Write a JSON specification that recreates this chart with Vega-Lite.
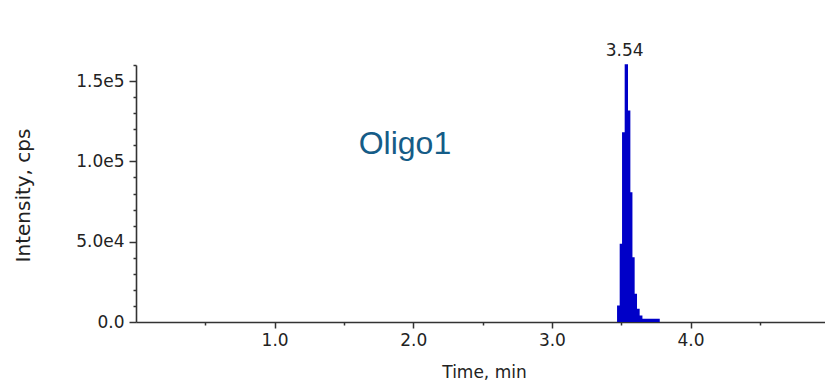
{
  "$schema": "https://vega.github.io/schema/vega-lite/v6.json",
  "autosize": "none",
  "width": 689,
  "height": 257,
  "padding": {"left": 136, "top": 65, "right": 0, "bottom": 58},
  "background": "white",
  "config": {"view": {"stroke": null}},
  "datasets": {
    "trace": [
      {"time": 0.0, "intensity": 0},
      {"time": 3.47, "intensity": 10270},
      {"time": 3.489, "intensity": 48670},
      {"time": 3.506, "intensity": 118140},
      {"time": 3.525, "intensity": 160500},
      {"time": 3.549, "intensity": 131640},
      {"time": 3.566, "intensity": 80790},
      {"time": 3.581, "intensity": 40340},
      {"time": 3.597, "intensity": 17550},
      {"time": 3.614, "intensity": 8200},
      {"time": 3.633, "intensity": 4050},
      {"time": 3.653, "intensity": 2000},
      {"time": 3.778, "intensity": 0},
      {"time": 4.97, "intensity": 0}
    ],
    "peak": [{"time": 3.525, "intensity": 160500, "label": "3.54"}],
    "name": [{"time": 1.94, "intensity": 104880, "label": "Oligo1"}]
  },
  "layer": [
    {
      "data": {"name": "trace"},
      "mark": {"type": "area", "interpolate": "step-after", "color": "#0000c8"},
      "encoding": {
        "x": {
          "field": "time", "type": "quantitative",
          "scale": {"domain": [0, 4.97], "nice": false, "zero": false},
          "axis": {
            "title": "Time, min",
            "values": [0.5, 1, 1.5, 2, 2.5, 3, 3.5, 4, 4.5],
            "tickCount": 20,
            "labelExpr": "datum.value == 1 ? '1.0' : datum.value == 2 ? '2.0' : datum.value == 3 ? '3.0' : datum.value == 4 ? '4.0' : ''",
            "labelOverlap": false,
            "grid": false,
            "domainColor": "#333333",
            "domainWidth": 1.6,
            "tickColor": "#333333",
            "tickWidth": 1.5,
            "tickSize": {"condition": {"test": "datum.value == 1 || datum.value == 2 || datum.value == 3 || datum.value == 4", "value": 6}, "value": 3},
            "labelFont": "DejaVu Sans",
            "labelFontSize": 17,
            "labelColor": "#222222",
            "labelPadding": 4,
            "labelFlush": false,
            "titleFont": "DejaVu Sans",
            "titleFontSize": 17,
            "titleFontWeight": "normal",
            "titleColor": "#222222",
            "titleBaseline": "alphabetic",
            "titleY": 55,
            "titleX": 348
          }
        },
        "y": {
          "field": "intensity", "type": "quantitative",
          "scale": {"domain": [0, 160000], "nice": false},
          "axis": {
            "title": "Intensity, cps",
            "values": [0, 10000, 20000, 30000, 40000, 50000, 60000, 70000, 80000, 90000, 100000, 110000, 120000, 130000, 140000, 150000, 160000],
            "tickCount": 20,
            "labelExpr": "datum.value == 150000 ? '1.5e5' : datum.value == 100000 ? '1.0e5' : datum.value == 50000 ? '5.0e4' : datum.value == 0 ? '0.0' : ''",
            "labelOverlap": false,
            "grid": false,
            "domainColor": "#333333",
            "domainWidth": 1.6,
            "tickColor": "#333333",
            "tickWidth": 1.5,
            "tickSize": {"condition": {"test": "datum.value == 0 || datum.value == 50000 || datum.value == 100000 || datum.value == 150000", "value": 7}, "value": 3},
            "labelFont": "DejaVu Sans",
            "labelFontSize": 17,
            "labelColor": "#222222",
            "labelPadding": 5,
            "labelFlush": false,
            "titleFont": "DejaVu Sans",
            "titleFontSize": 20,
            "titleFontWeight": "normal",
            "titleColor": "#222222",
            "titleAngle": -90,
            "titleAlign": "center",
            "titleBaseline": "middle",
            "titleX": -113,
            "titleY": 130
          }
        }
      }
    },
    {
      "data": {"name": "peak"},
      "mark": {"type": "text", "font": "DejaVu Sans", "fontSize": 17, "color": "#222222", "baseline": "alphabetic", "align": "center", "dy": -8},
      "encoding": {
        "x": {"field": "time", "type": "quantitative"},
        "y": {"field": "intensity", "type": "quantitative"},
        "text": {"field": "label"}
      }
    },
    {
      "data": {"name": "name"},
      "mark": {"type": "text", "font": "Liberation Sans", "fontSize": 32, "color": "#155c87", "baseline": "alphabetic", "align": "center"},
      "encoding": {
        "x": {"field": "time", "type": "quantitative"},
        "y": {"field": "intensity", "type": "quantitative"},
        "text": {"field": "label"}
      }
    }
  ]
}
